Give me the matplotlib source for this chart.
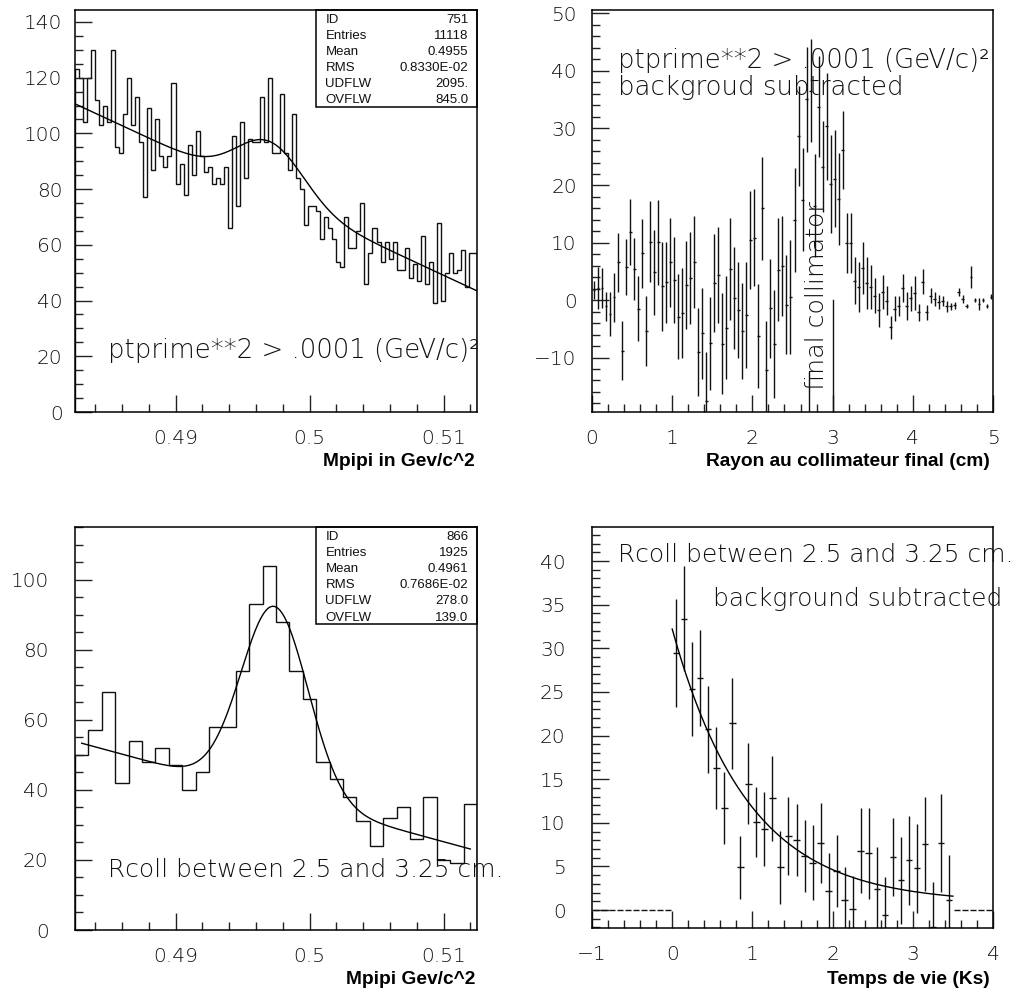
import numpy as np
import matplotlib
matplotlib.use("Agg")
import matplotlib.pyplot as plt
from matplotlib.ticker import MultipleLocator

# ---------------------------------------------------------------- data
# Mpipi spectrum, ptprime**2 > .0001, 100 bins over [0.4825, 0.5125]
mass_range = (0.4825, 0.5125)
fine_counts = [
    123, 120, 104, 120, 130, 112, 103, 110, 104, 130,
    95, 93, 107, 120, 103, 113, 97, 77, 109, 87,
    105, 92, 88, 92, 118, 82, 89, 78, 96, 85,
    101, 92, 86, 88, 82, 84, 82, 88, 66, 99,
    74, 104, 84, 98, 97, 97, 113, 97, 120, 93,
    93, 114, 93, 87, 107, 84, 80, 67, 74, 74,
    72, 62, 70, 66, 62, 54, 52, 70, 59, 59,
    65, 75, 46, 57, 66, 61, 54, 61, 55, 61,
    51, 51, 59, 48, 53, 47, 63, 46, 54, 39,
    68, 40, 50, 57, 50, 51, 58, 45, 57, 57,
]
fine_stats = [("ID", "751"), ("Entries", "11118"), ("Mean", "0.4955"),
              ("RMS", "0.8330E-02"), ("UDFLW", "2095."), ("OVFLW", "845.0")]
# fitted model: linear background + gaussian
fine_fit_bg = (110.4, -2238.0, 0.4826)      # value, slope, reference mass
fine_fit_peak = (19.0, 0.4971, 0.0025)      # height, mean, sigma

# background-subtracted radius distribution, 100 bins over [0, 5] cm
radius_range = (0.0, 5.0)
radius_values = [
    1.8, 2.1, 2.1, -1.1, -2.4, 0.5, 6.6, -8.8, 5.8, 11.9,
    5.5, -1.5, 8.2, -5.4, 10.2, 4.9, 10.1, 2.4, 3.1, 6.6,
    3.6, -2.9, -2.2, 2.6, 3.9, 6.6, -9.0, -5.8, -17.6, -7.5,
    3.0, 4.4, -7.6, -4.8, 5.4, 0.3, -1.7, -5.4, -2.6, 10.5,
    10.9, -6.2, 16.0, -12.1, -1.4, -7.7, 5.3, 5.9, -0.8, 0.6,
    14.0, 28.6, 17.5, 35.0, 36.5, 16.5, 33.7, 23.3, 30.3, 20.3,
    21.2, 17.6, 26.2, 10.0, 10.0, 3.4, 2.3, 5.6, 3.0, 2.3,
    0.8, -1.7, 1.4, -0.1, -4.7, -1.5, -1.0, 2.1, -1.0, 0.3,
    1.3, -2.1, 3.2, -2.1, 0.8, 0.2, -0.3, -0.1, -1.1, -1.1,
    -0.9, 1.4, 0.2, -1.0, 4.0, 0.0, -0.7, 0.0, -1.0, 0.6,
]
radius_errors = [
    1.6, 3.6, 3.5, 2.5, 3.9, 4.3, 5.2, 5.1, 4.9, 5.7,
    5.4, 5.7, 6.0, 6.1, 7.1, 7.4, 7.4, 7.8, 7.0, 7.8,
    7.5, 7.4, 7.8, 7.7, 8.0, 8.0, 7.7, 8.0, 8.5, 8.1,
    8.6, 8.4, 8.8, 9.0, 8.9, 8.9, 8.4, 8.4, 9.3, 8.5,
    8.5, 9.1, 9.0, 8.5, 8.6, 9.4, 9.0, 8.7, 8.6, 9.9,
    9.0, 8.7, 9.0, 9.1, 9.0, 9.0, 8.8, 8.0, 9.3, 8.5,
    8.5, 8.0, 6.8, 5.2, 5.2, 4.1, 4.4, 4.5, 4.6, 3.9,
    3.0, 3.0, 3.0, 2.5, 2.0, 2.2, 1.7, 2.5, 2.5, 2.2,
    3.0, 1.5, 2.2, 1.3, 1.3, 1.2, 1.2, 0.9, 0.9, 0.6,
    0.6, 0.7, 0.7, 0.4, 1.9, 0.3, 1.0, 0.3, 0.4, 0.4,
]
collimator_marks = [(2.7, -12.6), (3.0, 0.0)]   # (radius, top of marker line)

# Mpipi spectrum, Rcoll in [2.5, 3.25] cm, 30 bins over [0.4825, 0.5125]
coarse_counts = [
    50, 57, 68, 42, 54, 48, 52, 47, 40, 45,
    58, 58, 74, 93, 104, 88, 74, 66, 48, 43,
    38, 31, 24, 32, 35, 26, 38, 20, 19, 36,
]
coarse_stats = [("ID", "866"), ("Entries", "1925"), ("Mean", "0.4961"),
                ("RMS", "0.7686E-02"), ("UDFLW", "278.0"), ("OVFLW", "139.0")]
coarse_fit_bg = (53.3, -1041.0, 0.4830)
coarse_fit_peak = (54.0, 0.4974, 0.0025)

# background-subtracted decay time, 50 bins over [-1, 4] Ks
time_range = (-1.0, 4.0)
time_values = [0.0] * 10 + [
    29.5, 33.4, 25.3, 26.6, 20.7, 16.3, 11.7, 21.4, 4.9, 14.5,
    10.1, 9.3, 12.8, 4.9, 8.5, 8.0, 6.2, 5.4, 7.7, 2.2,
    4.5, 1.1, 0.1, 6.8, 6.5, 2.4, -0.6, 6.1, 3.4, 5.7,
    4.8, 7.6, -2.0, 7.7, 1.1,
] + [0.0] * 5
time_errors = [0.0] * 10 + [
    6.2, 6.0, 5.4, 5.5, 5.0, 4.7, 4.1, 5.2, 3.6, 4.6,
    4.0, 4.2, 4.9, 4.2, 4.5, 4.1, 4.1, 4.3, 4.6, 4.3,
    4.1, 3.8, 3.8, 4.9, 5.2, 4.8, 4.4, 4.5, 5.0, 5.1,
    5.1, 5.4, 5.2, 5.6, 5.2,
] + [0.0] * 5
time_fit = (31.4, 0.95, 0.8, 0.0, 3.5)   # amplitude, tau, constant, fit range

# ---------------------------------------------------------------- style
W, H = 1016, 997
fig = plt.figure(figsize=(W / 100, H / 100), dpi=100)

THIN = dict(family=["DejaVu Sans"], fontweight="light")
BOLD = dict(family=["Liberation Sans", "DejaVu Sans"], fontweight="bold")
STAT = dict(family=["Liberation Sans", "DejaVu Sans"])
INK = "#111111"
TOP_NOTE = 18.7
LOW_NOTE = 17.9
TICK_SIZE = 14.5
TITLE_SIZE = 13.8


def fx(x):
    return x / W


def fy(y):
    return 1 - y / H


def panel(x0, y0, x1, y1, ypad):
    ax = fig.add_axes([fx(x0), fy(y1), (x1 - x0) / W, (y1 - y0) / H])
    for s in ax.spines.values():
        s.set_linewidth(1.1)
        s.set_color("black")
    ax.tick_params(which="both", direction="in", top=False, right=False,
                   color="#222222", width=1.0, labelsize=TICK_SIZE, labelcolor=INK)
    ax.tick_params(which="major", length=12.5)
    ax.tick_params(which="minor", length=5.5)
    ax.tick_params(axis="x", pad=12.5)
    ax.tick_params(axis="y", pad=ypad)
    return ax


def style_labels(ax):
    for lab in ax.get_xticklabels() + ax.get_yticklabels():
        lab.set_fontfamily(THIN["family"])
        lab.set_fontweight(THIN["fontweight"])


def note(x, y, s, size, **kw):
    fig.text(fx(x), fy(y), s, fontsize=size, color=INK, ha="left",
             va="baseline", **THIN, **kw)


def stat_box(ax, rows):
    x0, x1 = 0.599, 1.0
    n = len(rows)
    top, bot = 1.0, 1.0 - 0.241
    ax.add_patch(plt.Rectangle((x0, bot), x1 - x0, top - bot, transform=ax.transAxes,
                               fill=False, lw=1.1, ec="black", zorder=5, clip_on=False))
    step = (top - bot) / n
    for k, (name, val) in enumerate(rows):
        y = top - (k + 0.6) * step
        ax.text(x0 + 0.024, y, name, transform=ax.transAxes, fontsize=9.5,
                va="center", ha="left", color=INK, **STAT)
        ax.text(x1 - 0.022, y, val, transform=ax.transAxes, fontsize=9.5,
                va="center", ha="right", color=INK, **STAT)


def mass_fmt(v, _):
    return f"{v:.3f}".rstrip("0")


# ---------------------------------------------------------------- top left
ax1 = panel(75, 10, 477, 412, ypad=9)
edges = np.linspace(mass_range[0], mass_range[1], len(fine_counts) + 1)
ax1.stairs(fine_counts, edges, color=INK, lw=1.0)
m = np.linspace(0.4826, 0.5128, 400)
bg = fine_fit_bg[0] + fine_fit_bg[1] * (m - fine_fit_bg[2])
pk = fine_fit_peak[0] * np.exp(-0.5 * ((m - fine_fit_peak[1]) / fine_fit_peak[2]) ** 2)
ax1.plot(m, bg + pk, color="black", lw=1.0)
ax1.set_xlim(*mass_range)
ax1.set_ylim(0, 144.3)
ax1.xaxis.set_major_locator(MultipleLocator(0.01))
ax1.xaxis.set_minor_locator(MultipleLocator(0.002))
ax1.xaxis.set_major_formatter(plt.FuncFormatter(mass_fmt))
ax1.yaxis.set_major_locator(MultipleLocator(20))
ax1.yaxis.set_minor_locator(MultipleLocator(5))
style_labels(ax1)
stat_box(ax1, fine_stats)
note(108, 358, "ptprime**2 > .0001 (GeV/c)\u00b2", TOP_NOTE)
fig.text(fx(475), fy(461), "Mpipi in Gev/c^2", ha="right", va="center",
         fontsize=TITLE_SIZE, color="black", **BOLD)

# ---------------------------------------------------------------- top right
ax2 = panel(592, 10, 993, 412, ypad=11)
rc = np.linspace(radius_range[0], radius_range[1], len(radius_values) + 1)
rc = 0.5 * (rc[1:] + rc[:-1])
ax2.errorbar(rc, radius_values, yerr=radius_errors, xerr=0.018, fmt="none",
             ecolor=INK, elinewidth=1.0, capsize=0)
for xm, ytop in collimator_marks:
    ax2.plot([xm, xm], [-40, ytop], color=INK, lw=1.0)
ax2.set_xlim(*radius_range)
ax2.set_ylim(-19.5, 50.6)
ax2.xaxis.set_major_locator(MultipleLocator(1))
ax2.xaxis.set_minor_locator(MultipleLocator(0.2))
ax2.yaxis.set_major_locator(MultipleLocator(10))
ax2.yaxis.set_minor_locator(MultipleLocator(2))
style_labels(ax2)
note(618, 68, "ptprime**2 > .0001 (GeV/c)\u00b2", TOP_NOTE)
note(618, 95, "backgroud subtracted", TOP_NOTE)
fig.text(fx(817), fy(296), "final collimator", fontsize=18.2, rotation=90,
         ha="center", va="center", color=INK, **THIN)
fig.text(fx(990), fy(461), "Rayon au collimateur final (cm)", ha="right",
         va="center", fontsize=TITLE_SIZE, color="black", **BOLD)

# ---------------------------------------------------------------- bottom left
ax3 = panel(75, 527, 477, 930, ypad=19)
edges = np.linspace(mass_range[0], mass_range[1], len(coarse_counts) + 1)
ax3.stairs(coarse_counts, edges, color=INK, lw=1.0)
m = np.linspace(0.4830, 0.5120, 400)
bg = coarse_fit_bg[0] + coarse_fit_bg[1] * (m - coarse_fit_bg[2])
pk = coarse_fit_peak[0] * np.exp(-0.5 * ((m - coarse_fit_peak[1]) / coarse_fit_peak[2]) ** 2)
ax3.plot(m, bg + pk, color="black", lw=1.0)
ax3.set_xlim(*mass_range)
ax3.set_ylim(0, 115)
ax3.xaxis.set_major_locator(MultipleLocator(0.01))
ax3.xaxis.set_minor_locator(MultipleLocator(0.002))
ax3.xaxis.set_major_formatter(plt.FuncFormatter(mass_fmt))
ax3.yaxis.set_major_locator(MultipleLocator(20))
ax3.yaxis.set_minor_locator(MultipleLocator(5))
style_labels(ax3)
stat_box(ax3, coarse_stats)
note(108, 877, "Rcoll between 2.5 and 3.25 cm.", LOW_NOTE)
fig.text(fx(475), fy(979), "Mpipi Gev/c^2", ha="right", va="center",
         fontsize=TITLE_SIZE, color="black", **BOLD)

# ---------------------------------------------------------------- bottom right
ax4 = panel(592, 527, 993, 928, ypad=19)
tc = np.linspace(time_range[0], time_range[1], len(time_values) + 1)
tc = 0.5 * (tc[1:] + tc[:-1])
ax4.errorbar(tc, time_values, yerr=time_errors, xerr=0.04, fmt="none",
             ecolor=INK, elinewidth=1.0, capsize=0)
t = np.linspace(time_fit[3], time_fit[4], 300)
ax4.plot(t, time_fit[0] * np.exp(-t / time_fit[1]) + time_fit[2], color="black", lw=1.0)
ax4.set_xlim(*time_range)
ax4.set_ylim(-2.06, 43.9)
ax4.xaxis.set_major_locator(MultipleLocator(1))
ax4.xaxis.set_minor_locator(MultipleLocator(0.2))
ax4.yaxis.set_major_locator(MultipleLocator(5))
ax4.yaxis.set_minor_locator(MultipleLocator(1))
style_labels(ax4)
note(618, 562, "Rcoll between 2.5 and 3.25 cm.", LOW_NOTE)
note(713, 606, "background subtracted", LOW_NOTE)
fig.text(fx(990), fy(979), "Temps de vie (Ks)", ha="right", va="center",
         fontsize=TITLE_SIZE, color="black", **BOLD)

fig.savefig("out.png", dpi=100)
